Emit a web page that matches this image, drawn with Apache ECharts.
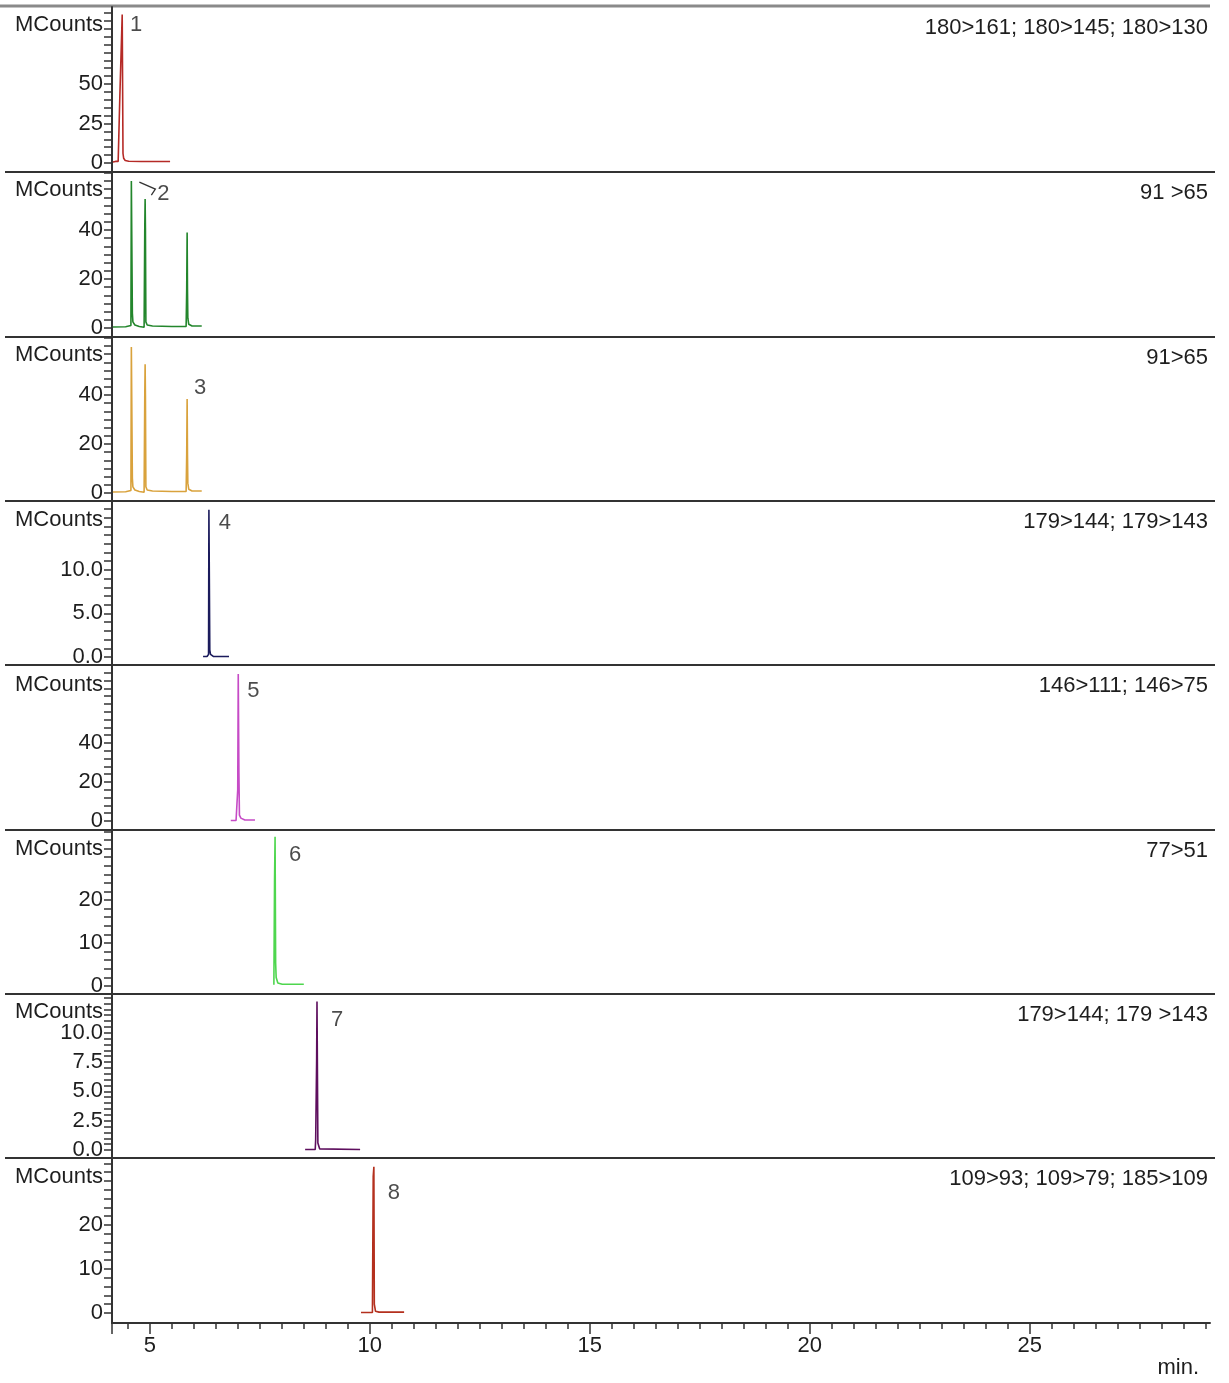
<!DOCTYPE html>
<html>
<head>
<meta charset="utf-8">
<script src="https://cdn.jsdelivr.net/npm/echarts@6/dist/echarts.min.js"></script>
<style>
  body { margin: 0; background: #fff; }
  #chart { width: 1229px; height: 1383px; }
</style>
</head>
<body>
<div id="chart"></div>
<script>
// retention time axis (min)
const xMin = 4.14;
const xMax = 29.1;
const xLabels = [5, 10, 15, 20, 25];

// traces: [time (min), MCounts]
const trace1 = [[4.16, 0.6], [4.22, 1.0], [4.25, 2.2], [4.28, 1.0], [4.31, 1.4], [4.318, 42], [4.33, 42], [4.372, 94], [4.382, 94], [4.39, 6], [4.405, 3], [4.44, 1.6], [4.52, 1.1], [4.8, 0.9], [5.46, 0.9]];
const trace2 = [[4.16, 0.4], [4.45, 0.5], [4.57, 1], [4.58, 60], [4.595, 60], [4.603, 6], [4.615, 2.5], [4.66, 1.2], [4.76, 0.6], [4.87, 0.3], [4.885, 40.8], [4.893, 52.7], [4.9, 40.8], [4.91, 2.5], [4.94, 1.2], [5.06, 0.8], [5.5, 0.6], [5.825, 0.6], [5.838, 15.5], [5.848, 39], [5.856, 15.5], [5.864, 4], [5.885, 1.5], [5.96, 0.8], [6.18, 0.8]];
const trace3 = [[4.16, 0.4], [4.45, 0.5], [4.57, 1], [4.58, 59.6], [4.595, 59.6], [4.603, 6], [4.615, 2.5], [4.66, 1.2], [4.76, 0.6], [4.87, 0.3], [4.885, 40], [4.893, 52.6], [4.9, 40], [4.91, 2.5], [4.94, 1.2], [5.06, 0.8], [5.5, 0.6], [5.825, 0.6], [5.838, 15.5], [5.848, 38.4], [5.856, 15.5], [5.864, 4], [5.885, 1.5], [5.96, 0.8], [6.18, 0.8]];
const trace4 = [[6.21, 0.05], [6.3, 0.05], [6.335, 0.3], [6.343, 16.9], [6.355, 16.9], [6.363, 0.8], [6.38, 0.3], [6.45, 0.05], [6.8, 0.05]];
const trace5 = [[6.84, 0.3], [6.96, 0.3], [6.995, 1], [6.998, 16], [7.005, 16], [7.01, 75.4], [7.02, 75.4], [7.025, 24.6], [7.031, 24.6], [7.037, 3], [7.07, 1.5], [7.16, 0.5], [7.39, 0.5]];
const trace6 = [[7.82, 0.3], [7.835, 24.6], [7.847, 34.7], [7.86, 5.3], [7.872, 2], [7.91, 0.7], [8.01, 0.4], [8.5, 0.4]];
const trace7 = [[8.53, 0.05], [8.76, 0.05], [8.77, 0.85], [8.785, 0.85], [8.792, 7.7], [8.8, 12.65], [8.81, 12.65], [8.82, 0.6], [8.86, 0.1], [9.78, 0.05]];
const trace8 = [[9.8, 0.1], [10.06, 0.1], [10.078, 31], [10.093, 33.2], [10.103, 2], [10.113, 1.8], [10.13, 0.4], [10.21, 0.2], [10.78, 0.2]];
const traces = [trace1, trace2, trace3, trace4, trace5, trace6, trace7, trace8];

const colors = ["#b52a26", "#23862c", "#d9a23c", "#1b1b5c", "#c64bc6", "#4ed64e", "#5e0f5e", "#b4301e"];
const transitions = ["180>161; 180>145; 180>130", "91 >65", "91>65", "179>144; 179>143", "146>111; 146>75", "77>51", "179>144; 179 >143", "109>93; 109>79; 185>109"];
const peakNames = ["1", "2", "3", "4", "5", "6", "7", "8"];
const peakTimes = [4.38, 4.59, 5.85, 6.35, 7.02, 7.85, 8.81, 10.09];

// y axes
const yLabels = [[0, 25, 50], [0, 20, 40], [0, 20, 40], [0, 5, 10], [0, 20, 40], [0, 10, 20], [0, 2.5, 5, 7.5, 10], [0, 10, 20]];
const mcountsAt = [87.3, 56.3, 56.3, 15.7, 70, 32, 11.8, 31];
const yMin = [-5.7, -3.7, -3.3, -0.92, -4.6, -1.86, -0.68, -2.27];
const yMax = [98.7, 63.7, 63.7, 17.9, 80, 36.3, 13.3, 35.2];
const tickStep = [5, 20 / 6, 20 / 6, 1, 4, 2, 0.5, 2];
const decimals = [0, 0, 0, 1, 0, 0, 1, 0];

// layout
const panelTops = [7, 172, 337, 501, 665, 830, 994, 1158, 1323];
const labelOffsets = [[14, 11], [32, 13], [13, -11], [16, 13], [15, 17], [20, 18], [20, 18], [20, 26]];
const font = "'Liberation Sans', Arial, sans-serif";
const fontSize = 22;
const ink = "#1e1e1e";

const xMajor = [xMin].concat(xLabels);
const xMinor = [];
for (let k = 9; k * 0.5 <= 29; k++) {
  if (k % 10 !== 0) xMinor.push(k * 0.5);
}

function labelPoint(trace, t) {
  let best = null;
  trace.forEach(p => {
    if (Math.abs(p[0] - t) < 0.04 && (!best || p[1] > best[1])) best = p;
  });
  return best;
}

const myChart = echarts.init(document.getElementById("chart"));

const grids = [];
const xAxes = [];
const yAxes = [];
const series = [];

for (let i = 0; i < 8; i++) {
  const last = i === 7;
  grids.push({
    left: 112,
    width: 1098,
    top: panelTops[i],
    height: panelTops[i + 1] - panelTops[i],
  });
  xAxes.push({
    type: "value",
    gridIndex: i,
    position: "bottom",
    min: xMin,
    max: xMax,
    show: last,
    axisLine: { onZero: false, lineStyle: { color: "#333", width: 2 } },
    axisTick: { customValues: xMajor, length: 11, lineStyle: { color: "#333", width: 1.5 } },
    axisLabel: { customValues: xLabels, margin: 12, fontSize: fontSize, fontFamily: font, color: ink },
    splitLine: { show: false },
  });

  const ticks = [];
  for (let k = 0; k * tickStep[i] <= yMax[i]; k++) ticks.push(k * tickStep[i]);
  const dec = decimals[i];
  yAxes.push({
    type: "value",
    gridIndex: i,
    min: yMin[i],
    max: yMax[i],
    axisLine: { show: true, onZero: false, lineStyle: { color: "#333", width: 2 } },
    axisTick: { show: true, customValues: ticks, length: 8, lineStyle: { color: "#333", width: 1.5 } },
    axisLabel: {
      customValues: yLabels[i],
      formatter: v => v.toFixed(dec),
      margin: 9,
      fontSize: fontSize,
      fontFamily: font,
      color: ink,
    },
    splitLine: { show: false },
  });

  series.push({
    type: "line",
    xAxisIndex: i,
    yAxisIndex: i,
    data: traces[i],
    showSymbol: false,
    silent: true,
    lineStyle: { color: colors[i], width: 1.6 },
  });

  series.push({
    type: "scatter",
    xAxisIndex: i,
    yAxisIndex: i,
    data: [labelPoint(traces[i], peakTimes[i])],
    symbolSize: 0,
    silent: true,
    label: {
      show: true,
      formatter: peakNames[i],
      position: labelOffsets[i],
      align: "center",
      verticalAlign: "middle",
      fontSize: fontSize,
      fontFamily: font,
      color: ink,
    },
  });
}

// minor ticks of the time axis
xAxes.push({
  type: "value",
  gridIndex: 7,
  position: "bottom",
  min: xMin,
  max: xMax,
  axisLine: { show: false, onZero: false },
  axisTick: { customValues: xMinor, length: 6, lineStyle: { color: "#333", width: 1.5 } },
  axisLabel: { show: false },
  splitLine: { show: false },
});

const option = {
  animation: false,
  backgroundColor: "#fff",
  grid: grids,
  xAxis: xAxes,
  yAxis: yAxes,
  series: series,
};
myChart.setOption(option);

// separators, MCounts, transition texts, the "2" leader
const textStyle = {
  font: fontSize + "px " + font,
  fill: ink,
  align: "right",
  verticalAlign: "middle",
  textAlign: "right",
  textVerticalAlign: "middle",
};
const graphics = [];
graphics.push({
  type: "line",
  shape: { x1: 0, y1: 6, x2: 1210, y2: 6 },
  style: { stroke: "#8a8a8a", lineWidth: 3 },
});
for (let i = 1; i < 8; i++) {
  graphics.push({
    type: "line",
    shape: { x1: 5, y1: panelTops[i], x2: 1215, y2: panelTops[i] },
    style: { stroke: "#333", lineWidth: 2 },
  });
}
mcountsAt.forEach((v, i) => {
  const p = myChart.convertToPixel({ gridIndex: i }, [xMin, v]);
  graphics.push({
    type: "text",
    x: p[0] - 9,
    y: p[1],
    style: Object.assign({ text: "MCounts" }, textStyle),
  });
});
transitions.forEach((t, i) => {
  graphics.push({
    type: "text",
    x: 1208,
    y: panelTops[i] + 21,
    style: Object.assign({ text: t }, textStyle),
  });
});
graphics.push({
  type: "text",
  x: 1199,
  y: 1368,
  style: Object.assign({ text: "min." }, textStyle),
});
const p2 = myChart.convertToPixel({ gridIndex: 1 }, labelPoint(trace2, peakTimes[1]));
graphics.push({
  type: "polyline",
  shape: { points: [[p2[0] + 8, p2[1] + 1], [p2[0] + 24, p2[1] + 8], [p2[0] + 20, p2[1] + 14]] },
  style: { stroke: "#333", lineWidth: 1.3, fill: null },
});
myChart.setOption({ graphic: graphics });
</script>
</body>
</html>
